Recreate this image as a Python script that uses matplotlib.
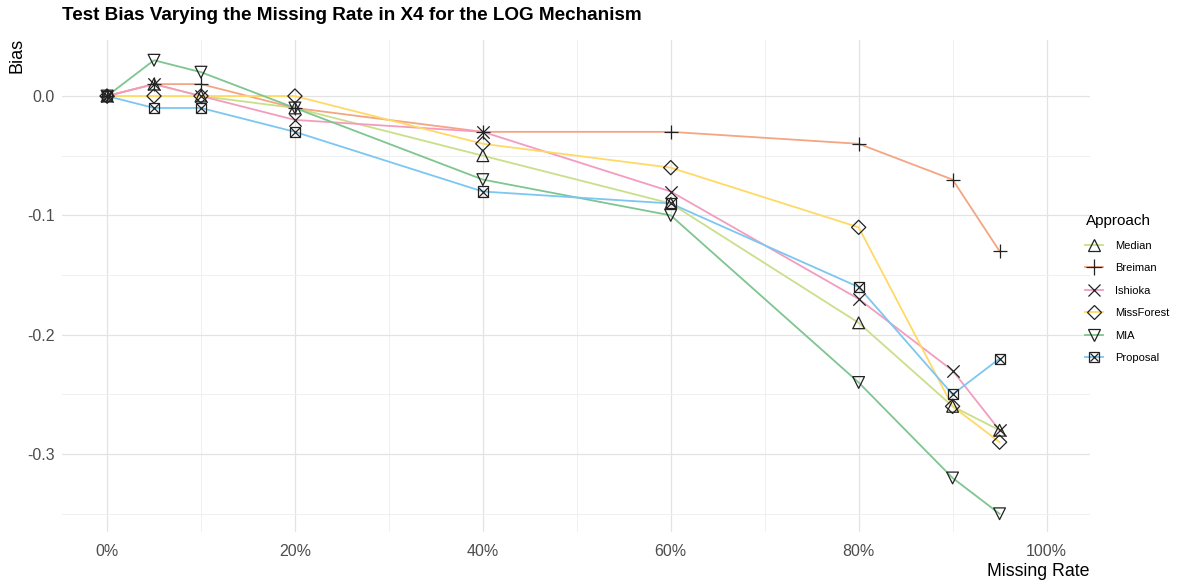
import matplotlib
matplotlib.use("Agg")
import matplotlib.pyplot as plt
from matplotlib.lines import Line2D
from matplotlib.ticker import FuncFormatter, MultipleLocator

plt.rcParams["font.family"] = ["Liberation Sans", "DejaVu Sans"]

missing_rate = [0, 5, 10, 20, 40, 60, 80, 90, 95]

approaches = ["Median", "Breiman", "Ishioka", "MissForest", "MIA", "Proposal"]
median_bias = [0.0, 0.01, 0.0, -0.01, -0.05, -0.09, -0.19, -0.26, -0.28]
breiman_bias = [0.0, 0.01, 0.01, -0.01, -0.03, -0.03, -0.04, -0.07, -0.13]
ishioka_bias = [0.0, 0.01, 0.0, -0.02, -0.03, -0.08, -0.17, -0.23, -0.28]
missforest_bias = [0.0, 0.0, 0.0, 0.0, -0.04, -0.06, -0.11, -0.26, -0.29]
mia_bias = [0.0, 0.03, 0.02, -0.01, -0.07, -0.10, -0.24, -0.32, -0.35]
proposal_bias = [0.0, -0.01, -0.01, -0.03, -0.08, -0.09, -0.16, -0.25, -0.22]

series = [median_bias, breiman_bias, ishioka_bias, missforest_bias, mia_bias, proposal_bias]
colors = ["#c9df8a", "#f4a582", "#f39cc0", "#ffd966", "#7fc58f", "#7cc7f2"]
markers = ["^", "+", "x", "D", "v", None]

fig = plt.figure(figsize=(11.91, 5.84), dpi=100)
ax = fig.add_axes([0.052, 0.0896, 0.863, 0.842])

for name, vals, col, mk in zip(approaches, series, colors, markers):
    ax.plot(missing_rate, vals, color=col, lw=1.3, zorder=2)

def draw_markers(target, x, y, mk, size):
    if mk is None:
        target.scatter(x, y, marker="s", s=size * 0.5, facecolors="none",
                       edgecolors="#222222", linewidths=0.9, zorder=3)
        target.scatter(x, y, marker="x", s=size * 0.4, color="#222222",
                       linewidths=0.9, zorder=3)
    elif mk in ("+", "x"):
        target.scatter(x, y, marker=mk, s=size * (1.0 if mk == "+" else 0.75),
                       color="#222222", linewidths=0.9, zorder=3)
    else:
        s = size * (0.5 if mk == "D" else 0.68)
        target.scatter(x, y, marker=mk, s=s, facecolors="none",
                       edgecolors="#222222", linewidths=0.9, zorder=3)

for vals, mk in zip(series, markers):
    draw_markers(ax, missing_rate, vals, mk, 105)

ax.set_xlim(-4.8, 104.6)
ax.set_ylim(-0.365, 0.047)
ax.xaxis.set_major_locator(MultipleLocator(20))
ax.xaxis.set_minor_locator(MultipleLocator(10))
ax.yaxis.set_major_locator(MultipleLocator(0.1))
ax.yaxis.set_minor_locator(MultipleLocator(0.05))
ax.xaxis.set_major_formatter(FuncFormatter(lambda v, p: f"{v:.0f}%"))
ax.yaxis.set_major_formatter(FuncFormatter(lambda v, p: f"{v:.1f}"))
ax.grid(which="major", color="#e3e3e3", lw=0.9)
ax.grid(which="minor", color="#f0f0f0", lw=0.7)
ax.set_axisbelow(True)
for s in ax.spines.values():
    s.set_visible(False)
ax.tick_params(which="both", length=0, labelsize=11.5, labelcolor="#4d4d4d")
ax.tick_params(axis="x", pad=9)
ax.tick_params(axis="y", pad=5)

fig.text(0.052, 0.988, "Test Bias Varying the Missing Rate in X4 for the LOG Mechanism",
         fontsize=13.6, fontweight="bold", ha="left", va="top", color="black")
fig.text(0.0145, 0.935, "Bias", fontsize=13, ha="center", va="top", rotation=90)
fig.text(0.915, 0.022, "Missing Rate", fontsize=12.8, ha="right", va="center")

# legend
handles = []
for name, col, mk in zip(approaches, colors, markers):
    if mk is None:
        h = (Line2D([], [], color=col, lw=1.3),
             Line2D([], [], marker="s", ls="none", markerfacecolor="none",
                    markeredgecolor="#222222", markersize=7, markeredgewidth=0.9),
             Line2D([], [], marker="x", ls="none", color="#222222",
                    markersize=6, markeredgewidth=0.9))
    else:
        ms = {"^": 9, "+": 11, "x": 8, "D": 7, "v": 9}[mk]
        h = (Line2D([], [], color=col, lw=1.3),
             Line2D([], [], marker=mk, ls="none", markerfacecolor="none",
                    markeredgecolor="#222222", color="#222222",
                    markersize=ms, markeredgewidth=0.9))
    handles.append(h)

leg = fig.legend(handles, approaches, title="Approach", loc="upper left",
                 bbox_to_anchor=(0.903, 0.65), frameon=False, fontsize=8,
                 title_fontsize=11, handlelength=1.6, labelspacing=1.12,
                 handletextpad=1.1)
leg._legend_box.align = "left"

fig.savefig("out.png", dpi=100)
